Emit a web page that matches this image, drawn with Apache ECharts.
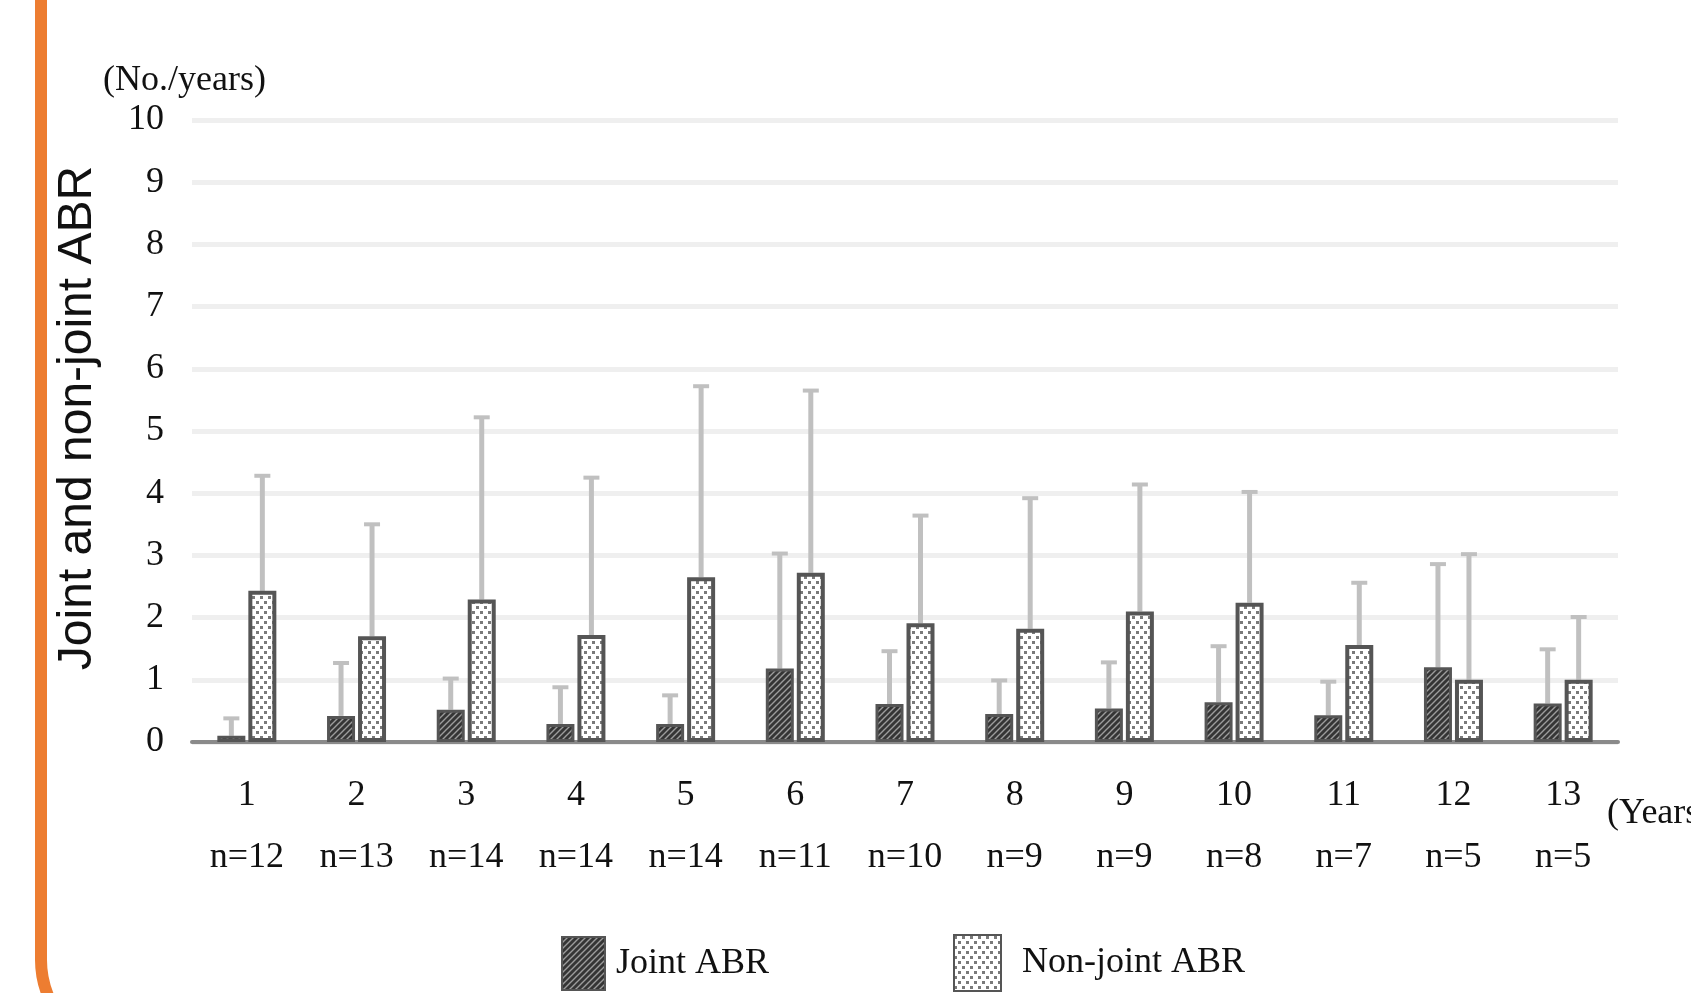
<!DOCTYPE html>
<html>
<head>
<meta charset="utf-8">
<script src="https://cdn.jsdelivr.net/npm/echarts@6/dist/echarts.min.js"></script>
<style>
html,body{margin:0;padding:0;background:#fff;}
#chart{width:1691px;height:993px;}
</style>
</head>
<body>
<div id="chart"></div>
<script>
// ---- data ----
const categories = ['1','2','3','4','5','6','7','8','9','10','11','12','13'];
const nLabels = ['n=12','n=13','n=14','n=14','n=14','n=11','n=10','n=9','n=9','n=8','n=7','n=5','n=5'];
const jointMean = [0.10,0.42,0.52,0.29,0.29,1.18,0.61,0.45,0.54,0.64,0.43,1.20,0.62];
const jointUpper = [0.38,1.27,1.02,0.88,0.75,3.03,1.46,0.99,1.28,1.54,0.97,2.86,1.49];
const nonJointMean = [2.43,1.70,2.29,1.72,2.65,2.72,1.91,1.82,2.10,2.24,1.56,1.00,1.00];
const nonJointUpper = [4.28,3.50,5.22,4.25,5.72,5.65,3.64,3.92,4.14,4.02,2.56,3.02,2.01];
const seriesNames = ['Joint ABR','Non-joint ABR'];

const SERIF = "'Liberation Serif','Times New Roman',serif";
const SANS = "'Liberation Sans',Arial,sans-serif";
const BAR_W = 28, BAR_GAP = 3;

function hatchPattern(){
  const c=document.createElement('canvas'); c.width=6; c.height=6;
  const g=c.getContext('2d');
  g.fillStyle='#353535'; g.fillRect(0,0,6,6);
  g.strokeStyle='#9c9c9c'; g.lineWidth=1.4;
  g.beginPath();
  g.moveTo(0,6); g.lineTo(6,0);
  g.moveTo(-3,3); g.lineTo(3,-3);
  g.moveTo(3,9); g.lineTo(9,3);
  g.stroke();
  return c;
}
function dotPattern(){
  const c=document.createElement('canvas'); c.width=8; c.height=10;
  const g=c.getContext('2d');
  g.fillStyle='#ffffff'; g.fillRect(0,0,8,10);
  g.fillStyle='#7a7a7a';
  g.fillRect(0,1,3,3);
  g.fillRect(4,6,3,3);
  return c;
}

function errData(mean, upper){
  return mean.map((m,i)=>[i,m,upper[i]]);
}
function errRender(offsetSign){
  return function(params, api){
    const base = api.coord([api.value(0), api.value(1)]);
    const top = api.coord([api.value(0), api.value(2)]);
    const x = base[0] + offsetSign*(BAR_W+BAR_GAP)/2;
    const st = {stroke:'#c0c0c0', lineWidth:5};
    return {type:'group', children:[
      {type:'line', shape:{x1:x,y1:base[1],x2:x,y2:top[1]}, style:st},
      {type:'line', shape:{x1:x-8,y1:top[1],x2:x+8,y2:top[1]}, style:{stroke:'#c0c0c0', lineWidth:4}}
    ]};
  };
}

const legendText = {fontFamily:SERIF, fontSize:36, color:'#111'};
const chart = echarts.init(document.getElementById('chart'), null, {renderer:'canvas'});
chart.setOption({
  backgroundColor:'#ffffff',
  animation:false,
  grid:{left:192, right:73, top:120, bottom:251, containLabel:false},
  legend:[
    {data:[seriesNames[0]], left:561, top:936, padding:0, itemWidth:43, itemHeight:53, icon:'rect',
      textStyle:Object.assign({padding:[0,0,0,6]}, legendText)},
    {data:[seriesNames[1]], left:953, top:934, padding:0, itemWidth:47, itemHeight:56, icon:'rect',
      textStyle:Object.assign({padding:[0,0,0,16]}, legendText)}
  ],
  xAxis:{
    type:'category', data:categories,
    axisLine:{lineStyle:{color:'#8a8a8a', width:4}},
    axisTick:{show:false},
    axisLabel:{
      margin:23,
      interval:0,
      formatter:(v,i)=> v + '\n' + nLabels[i],
      fontFamily:SERIF, fontSize:36, color:'#111', lineHeight:62
    }
  },
  yAxis:{
    type:'value', min:0, max:10, interval:1,
    axisLine:{show:false}, axisTick:{show:false},
    axisLabel:{margin:28, fontFamily:SERIF, fontSize:36, color:'#111'},
    splitLine:{lineStyle:{color:'#efefef', width:5}}
  },
  series:[
    {name:'err-joint', type:'custom', renderItem:errRender(-1), data:errData(jointMean,jointUpper), z:1, silent:true},
    {name:'err-nonjoint', type:'custom', renderItem:errRender(1), data:errData(nonJointMean,nonJointUpper), z:1, silent:true},
    {name:seriesNames[0], type:'bar', data:jointMean, barWidth:BAR_W, barGap:(BAR_GAP/BAR_W*100)+'%', z:3,
      itemStyle:{color:{image:hatchPattern(), repeat:'repeat'}, borderColor:'#555555', borderWidth:3}},
    {name:seriesNames[1], type:'bar', data:nonJointMean, barWidth:BAR_W, z:3,
      itemStyle:{color:{image:dotPattern(), repeat:'repeat'}, borderColor:'#555555', borderWidth:4}}
  ],
  graphic:[
    {type:'rect', shape:{x:41, y:-200, width:3000, height:1254, r:94},
      style:{fill:null, stroke:'#ED7D31', lineWidth:12}, silent:true},
    {type:'text', x:78, y:418, rotation:Math.PI/2, style:{text:'Joint and non-joint ABR', font:'48px '+SANS, fill:'#111', align:'center', verticalAlign:'middle'}},
    {type:'text', x:103, y:81, style:{text:'(No./years)', font:'36px '+SERIF, fill:'#111', align:'left', verticalAlign:'middle'}},
    {type:'text', x:1607, y:814, style:{text:'(Years)', font:'36px '+SERIF, fill:'#111', align:'left', verticalAlign:'middle'}}
  ]
});
</script>
</body>
</html>
